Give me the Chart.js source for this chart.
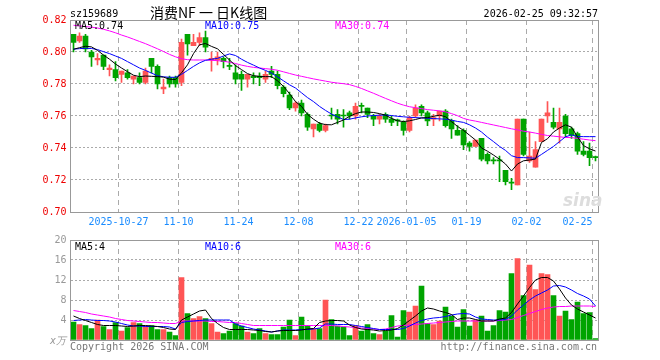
<!DOCTYPE html>
<html>
<head>
<meta charset="utf-8">
<script src="https://cdn.jsdelivr.net/npm/chart.js@4.4.1/dist/chart.umd.min.js"></script>
<style>
  body { margin: 0; background: #fff; }
  #wrap { position: relative; width: 660px; height: 360px; overflow: hidden;
          font-family: 'DejaVu Sans Mono', monospace; font-size: 10px; line-height: 10px; }
  #wrap canvas { position: absolute; left: 0; }
  .txt { position: absolute; white-space: pre; }
</style>
</head>
<body>
<div id="wrap">
  <canvas id="kline" width="660" height="232" style="top:0"></canvas>
  <canvas id="vol" width="660" height="128" style="top:232px"></canvas>

  <div class="txt" style="left:70px;top:9px;color:#000">sz159689</div>
  <div class="txt" style="left:150px;top:5px;font-family:'Noto Sans CJK SC';font-size:14px;line-height:14px;color:#000">消费NF 一 日K线图</div>
  <div class="txt" style="right:62px;top:9px;color:#000">2026-02-25 09:32:57</div>

  <div class="txt" id="lgMa5" style="left:75px;top:21px;color:#000"></div>
  <div class="txt" id="lgMa10" style="left:205px;top:21px;color:#0000ff"></div>
  <div class="txt" id="lgMa30" style="left:335px;top:21px;color:#ff00ff"></div>

  <div class="txt" id="lgVol5" style="left:75px;top:242px;color:#000"></div>
  <div class="txt" id="lgVol10" style="left:205px;top:242px;color:#0000ff"></div>
  <div class="txt" id="lgVol30" style="left:335px;top:242px;color:#ff00ff"></div>

  <div class="txt" style="left:50px;top:336px;color:#999;font-style:italic">x万</div>
  <div class="txt" style="left:70px;top:342px;color:#777">Copyright 2026 SINA.COM</div>
  <div class="txt" style="right:63px;top:342px;color:#777">http://finance.sina.com.cn</div>
  <div class="txt" style="left:563px;top:192px;font-family:'DejaVu Sans';font-size:17px;line-height:17px;font-weight:bold;font-style:italic;color:#ddd">sina</div>
</div>

<script>
// 交易日 2025-10-15 .. 2026-02-25
const dates = [
  '2025-10-15','2025-10-16','2025-10-17','2025-10-20','2025-10-21','2025-10-22','2025-10-23','2025-10-24','2025-10-27','2025-10-28',
  '2025-10-29','2025-10-30','2025-10-31','2025-11-03','2025-11-04','2025-11-05','2025-11-06','2025-11-07','2025-11-10','2025-11-11',
  '2025-11-12','2025-11-13','2025-11-14','2025-11-17','2025-11-18','2025-11-19','2025-11-20','2025-11-21','2025-11-24','2025-11-25',
  '2025-11-26','2025-11-27','2025-11-28','2025-12-01','2025-12-02','2025-12-03','2025-12-04','2025-12-05','2025-12-08','2025-12-09',
  '2025-12-10','2025-12-11','2025-12-12','2025-12-15','2025-12-16','2025-12-17','2025-12-18','2025-12-19','2025-12-22','2025-12-23',
  '2025-12-24','2025-12-25','2025-12-26','2025-12-29','2025-12-30','2025-12-31','2026-01-05','2026-01-06','2026-01-07','2026-01-08',
  '2026-01-09','2026-01-12','2026-01-13','2026-01-14','2026-01-15','2026-01-16','2026-01-19','2026-01-20','2026-01-21','2026-01-22',
  '2026-01-23','2026-01-26','2026-01-27','2026-01-28','2026-01-29','2026-01-30','2026-02-02','2026-02-03','2026-02-04','2026-02-05',
  '2026-02-06','2026-02-09','2026-02-10','2026-02-11','2026-02-12','2026-02-13','2026-02-24','2026-02-25'
];

const opens = [
  0.811,0.807,0.810,0.800,0.795,0.798,0.789,0.789,0.786,0.787,
  0.783,0.784,0.781,0.796,0.791,0.777,0.784,0.784,0.781,0.811,
  0.804,0.806,0.809,0.795,0.795,0.796,0.791,0.787,0.786,0.783,
  0.785,0.785,0.783,0.788,0.786,0.778,0.773,0.765,0.768,0.761,
  0.752,0.755,0.751,0.760,0.761,0.760,0.762,0.760,0.766,0.765,
  0.760,0.758,0.761,0.758,0.757,0.756,0.751,0.760,0.766,0.762,
  0.758,0.760,0.763,0.757,0.751,0.751,0.743,0.741,0.746,0.736,
  0.732,0.732,0.726,0.718,0.717,0.758,0.732,0.728,0.744,0.760,
  0.756,0.752,0.760,0.752,0.749,0.738,0.738,0.734
];
const highs = [
  0.811,0.812,0.811,0.801,0.799,0.798,0.792,0.794,0.788,0.789,
  0.785,0.787,0.790,0.796,0.792,0.783,0.785,0.785,0.808,0.811,
  0.811,0.812,0.813,0.800,0.800,0.797,0.796,0.792,0.788,0.786,
  0.787,0.787,0.788,0.791,0.788,0.779,0.775,0.769,0.770,0.762,
  0.755,0.756,0.755,0.765,0.764,0.764,0.763,0.768,0.768,0.765,
  0.761,0.761,0.762,0.760,0.758,0.757,0.760,0.767,0.767,0.763,
  0.761,0.763,0.764,0.758,0.754,0.752,0.744,0.745,0.746,0.737,
  0.734,0.735,0.726,0.721,0.758,0.758,0.750,0.744,0.758,0.769,
  0.765,0.765,0.761,0.753,0.750,0.744,0.743,0.735
];
const lows = [
  0.800,0.806,0.800,0.791,0.792,0.789,0.785,0.782,0.781,0.783,
  0.780,0.780,0.780,0.787,0.777,0.774,0.778,0.778,0.779,0.798,
  0.804,0.804,0.800,0.788,0.792,0.790,0.789,0.780,0.776,0.778,
  0.780,0.779,0.781,0.784,0.777,0.772,0.764,0.763,0.760,0.751,
  0.747,0.750,0.750,0.758,0.755,0.753,0.758,0.758,0.762,0.759,
  0.754,0.755,0.756,0.754,0.754,0.748,0.750,0.759,0.760,0.754,
  0.754,0.757,0.753,0.746,0.748,0.739,0.738,0.741,0.732,0.730,
  0.730,0.719,0.717,0.714,0.717,0.735,0.731,0.728,0.744,0.756,
  0.752,0.743,0.747,0.746,0.736,0.735,0.729,0.732
];
const closes = [
  0.806,0.810,0.802,0.797,0.796,0.791,0.790,0.784,0.788,0.784,
  0.785,0.781,0.788,0.791,0.780,0.778,0.780,0.780,0.806,0.805,
  0.806,0.809,0.803,0.796,0.797,0.794,0.791,0.783,0.783,0.786,
  0.784,0.784,0.786,0.786,0.779,0.774,0.765,0.768,0.762,0.753,
  0.755,0.751,0.754,0.760,0.758,0.760,0.760,0.766,0.766,0.761,
  0.758,0.760,0.758,0.756,0.757,0.751,0.759,0.765,0.762,0.757,
  0.759,0.763,0.754,0.752,0.748,0.742,0.741,0.745,0.733,0.732,
  0.732,0.732,0.719,0.718,0.758,0.736,0.735,0.739,0.758,0.762,
  0.753,0.756,0.749,0.748,0.738,0.736,0.734,0.734
];

// 均线
const ma5 = [
  0.8017,0.8027,0.8036,0.8032,0.8010,0.7981,0.7955,0.7925,0.7900,0.7877,
  0.7855,0.7846,0.7850,0.7848,0.7846,0.7843,0.7830,0.7828,0.7870,0.7920,
  0.7990,0.8045,0.8053,0.8035,0.8020,0.7985,0.7950,0.7915,0.7890,0.7865,
  0.7852,0.7847,0.7846,0.7846,0.7820,0.7785,0.7740,0.7690,0.7660,0.7610,
  0.7580,0.7555,0.7546,0.7545,0.7560,0.7575,0.7598,0.7615,0.7625,0.7625,
  0.7622,0.7615,0.7605,0.7585,0.7570,0.7565,0.7570,0.7578,0.7588,0.7590,
  0.7598,0.7605,0.7596,0.7565,0.7535,0.7510,0.7480,0.7450,0.7400,0.7380,
  0.7356,0.7330,0.7300,0.7256,0.7300,0.7320,0.7325,0.7331,0.7435,0.7458,
  0.7500,0.7525,0.7545,0.7530,0.7470,0.7415,0.7395,0.7381
];
const ma10 = [
  0.8018,0.8021,0.8023,0.8022,0.8015,0.8002,0.7990,0.7975,0.7960,0.7940,
  0.7920,0.7900,0.7885,0.7868,0.7852,0.7845,0.7842,0.7842,0.7860,0.7885,
  0.7910,0.7932,0.7948,0.7955,0.7960,0.7975,0.7988,0.7978,0.7955,0.7935,
  0.7918,0.7900,0.7885,0.7868,0.7845,0.7820,0.7795,0.7775,0.7745,0.7715,
  0.7690,0.7660,0.7635,0.7612,0.7595,0.7578,0.7580,0.7588,0.7595,0.7600,
  0.7603,0.7605,0.7606,0.7603,0.7598,0.7595,0.7592,0.7590,0.7588,0.7586,
  0.7584,0.7582,0.7580,0.7574,0.7566,0.7560,0.7545,0.7525,0.7500,0.7468,
  0.7440,0.7410,0.7385,0.7352,0.7340,0.7340,0.7338,0.7336,0.7360,0.7385,
  0.7410,0.7440,0.7470,0.7482,0.7472,0.7471,0.7471,0.7471
];
const ma30 = [
  0.8167,0.8163,0.8159,0.8155,0.8150,0.8142,0.8132,0.8120,0.8106,0.8094,
  0.8080,0.8066,0.8052,0.8036,0.8020,0.8003,0.7985,0.7970,0.7958,0.7952,
  0.7950,0.7950,0.7950,0.7948,0.7946,0.7942,0.7936,0.7928,0.7918,0.7910,
  0.7904,0.7900,0.7896,0.7892,0.7886,0.7876,0.7866,0.7856,0.7848,0.7840,
  0.7832,0.7825,0.7818,0.7811,0.7806,0.7802,0.7796,0.7785,0.7772,0.7757,
  0.7742,0.7726,0.7710,0.7695,0.7680,0.7668,0.7658,0.7652,0.7646,0.7640,
  0.7636,0.7632,0.7626,0.7615,0.7602,0.7585,0.7575,0.7568,0.7560,0.7552,
  0.7544,0.7536,0.7528,0.7520,0.7513,0.7505,0.7500,0.7493,0.7485,0.7478,
  0.7474,0.7470,0.7466,0.7465,0.7460,0.7455,0.7450,0.7446
];

// 成交量 (万)
const volumes = [
  3.6,3.1,2.9,2.3,4.0,2.7,2.1,3.5,1.8,2.5,
  3.5,3.3,2.8,2.9,2.1,2.1,1.6,0.9,12.5,5.3,
  4.3,4.7,4.3,3.3,1.6,1.3,1.8,3.3,2.8,1.6,
  1.3,2.3,1.3,1.1,1.1,2.6,4.0,0.9,4.6,2.9,
  2.3,2.3,8.0,4.1,2.8,2.6,0.9,2.9,1.8,3.1,
  1.3,1.1,1.8,4.9,0.6,5.9,5.6,6.8,10.8,3.3,
  3.1,3.8,6.6,4.8,2.6,6.1,2.8,4.0,4.8,1.8,
  2.9,5.9,5.6,13.3,16.3,8.9,15.0,10.1,13.3,13.1,
  8.9,4.8,5.8,4.1,7.6,5.3,5.5,0.3
];
const volMa5 = [
  4.8,4.3,3.9,3.5,3.1,2.9,2.9,2.9,2.8,2.7,
  2.8,2.9,2.9,2.8,2.7,2.5,2.2,2.1,4.0,4.6,
  5.2,5.8,6.0,4.3,3.3,2.5,2.1,2.1,2.1,2.1,
  2.0,1.9,1.7,1.6,1.8,1.9,1.9,1.9,2.0,2.2,
  2.3,3.5,3.8,3.9,3.9,3.8,3.0,2.5,2.2,2.1,
  2.0,1.8,1.9,2.0,2.3,3.0,3.9,4.8,5.8,6.4,
  6.2,5.8,5.5,5.1,4.1,4.4,4.4,4.1,3.8,3.8,
  3.8,4.2,4.4,5.5,7.2,8.8,10.5,12.0,12.5,12.5,
  11.8,10.2,8.4,7.0,6.2,5.6,5.0,4.4
];
const volMa10 = [
  3.9,4.0,4.1,4.0,3.9,3.9,3.8,3.6,3.3,3.0,
  2.8,2.8,2.7,2.7,2.7,2.7,2.6,2.2,3.5,3.7,
  3.8,3.9,4.0,4.0,4.0,4.0,4.0,3.2,2.8,2.5,
  2.2,2.0,1.8,1.6,1.8,2.0,2.0,2.0,2.1,2.1,
  2.2,2.4,3.2,3.2,3.1,3.1,3.1,2.9,2.7,2.5,
  2.3,2.1,2.1,2.1,2.1,2.3,2.8,3.4,3.9,4.2,
  4.4,4.5,4.7,5.0,5.2,5.3,5.2,4.6,4.2,4.1,
  4.0,4.0,4.1,4.8,6.0,7.0,8.0,8.8,9.4,10.0,
  10.8,10.9,10.6,10.0,9.3,8.8,8.2,6.8
];
const volMa30 = [
  5.9,5.7,5.5,5.2,5.0,4.8,4.6,4.3,4.1,3.9,
  3.8,3.7,3.6,3.5,3.5,3.4,3.3,3.3,3.8,3.8,
  3.8,3.8,3.8,3.7,3.7,3.6,3.5,3.5,3.3,3.1,
  2.9,2.9,2.9,2.9,2.9,2.9,2.9,2.9,2.9,2.9,
  2.9,2.9,2.9,2.9,2.8,2.7,2.6,2.5,2.4,2.3,
  2.2,2.1,2.2,2.5,2.8,2.9,3.0,3.1,3.2,3.3,
  3.4,3.5,3.6,3.7,3.8,3.8,3.8,3.8,3.8,3.8,
  3.8,3.9,4.0,4.1,4.5,4.9,5.3,5.7,6.1,6.4,
  6.6,6.7,6.7,6.8,6.8,6.8,6.8,6.7
];

// 横轴刻度
const tickDates = ['2025-10-27','2025-11-10','2025-11-24','2025-12-08','2025-12-22','2026-01-05','2026-01-19','2026-02-02','2026-02-25'];
const tickText  = ['2025-10-27','11-10','11-24','12-08','12-22','2026-01-05','01-19','02-02','02-25'];
const priceTicks = [0.70, 0.72, 0.74, 0.76, 0.78, 0.80, 0.82];
const volTicks = [0, 4, 8, 12, 16, 20];

const UP = '#ff5555';
const DOWN = '#00a400';
const colors = closes.map((c, i) => c > opens[i] ? UP : DOWN);
const FONT = { family: 'DejaVu Sans Mono', size: 10 };

// 图例文字
document.getElementById('lgMa5').textContent = 'MA5:' + ma5[ma5.length - 1].toFixed(2);
document.getElementById('lgMa10').textContent = 'MA10:' + ma10[ma10.length - 1].toFixed(2);
document.getElementById('lgMa30').textContent = 'MA30:' + ma30[ma30.length - 1].toFixed(2);
document.getElementById('lgVol5').textContent = 'MA5:' + Math.floor(volMa5[volMa5.length - 1]);
document.getElementById('lgVol10').textContent = 'MA10:' + Math.floor(volMa10[volMa10.length - 1]);
document.getElementById('lgVol30').textContent = 'MA30:' + Math.floor(volMa30[volMa30.length - 1]);

// 外框
const framePlugin = {
  id: 'frame',
  afterDraw(chart) {
    const { ctx, chartArea: a } = chart;
    ctx.save();
    ctx.strokeStyle = '#999';
    ctx.lineWidth = 1;
    ctx.strokeRect(Math.floor(a.left) + 0.5, Math.floor(a.top) + 0.5,
      Math.round(a.right - a.left), Math.round(a.bottom - a.top));
    ctx.restore();
  }
};

function noPad(s) {
  s.paddingLeft = 0; s.paddingRight = 0; s.paddingTop = 0; s.paddingBottom = 0;
}

function xAxis(showLabels) {
  return {
    type: 'category',
    offset: true,
    grid: {
      offset: true,
      drawTicks: false,
      lineWidth: 1,
      color: ctx => tickDates.includes(dates[ctx.index]) ? '#aaa' : 'rgba(0,0,0,0)'
    },
    border: { display: false, dash: [5, 4] },
    ticks: {
      display: showLabels,
      autoSkip: false,
      maxRotation: 0,
      minRotation: 0,
      padding: 4,
      labelOffset: -3,
      color: '#1a8cff',
      font: FONT,
      callback: (v, i) => {
        const k = tickDates.indexOf(dates[i]);
        if (k < 0) return '';
        // 最后一个日期右对齐到竖线
        return k === tickDates.length - 1 ? tickText[k] + '     ' : tickText[k];
      }
    },
    afterFit: s => { s.height = 20; noPad(s); }
  };
}

function lineSet(data, color) {
  return { type: 'line', data, borderColor: color, borderWidth: 1, pointRadius: 0,
           fill: false, tension: 0, order: 0 };
}

new Chart(document.getElementById('kline'), {
  type: 'bar',
  data: {
    labels: dates,
    datasets: [
      { data: lows.map((l, i) => [l, highs[i]]), backgroundColor: colors,
        barThickness: 1, grouped: false, order: 2 },
      { data: opens.map((o, i) => [o, closes[i]]), backgroundColor: colors,
        barThickness: 5, minBarLength: 1, grouped: false, order: 1 },
      lineSet(ma5, '#000000'),
      lineSet(ma10, '#0000ff'),
      lineSet(ma30, '#ff00ff')
    ]
  },
  options: {
    responsive: false,
    devicePixelRatio: 1,
    animation: false,
    layout: { padding: { top: 20, left: 0.5, right: 61.5, bottom: 0 } },
    plugins: { legend: { display: false }, tooltip: { enabled: false } },
    scales: {
      x: xAxis(true),
      y: {
        min: 0.70,
        max: 0.82,
        afterBuildTicks: s => { s.ticks = priceTicks.map(v => ({ value: v })); },
        ticks: { color: '#ee0000', font: FONT, padding: 4, callback: v => Number(v).toFixed(2) },
        grid: {
          drawTicks: false,
          color: ctx => (ctx.tick && ctx.tick.value > 0.701 && ctx.tick.value < 0.819) ? '#aaa' : 'rgba(0,0,0,0)'
        },
        border: { display: false, dash: [2, 2] },
        afterFit: s => { s.width = 70; noPad(s); }
      }
    }
  },
  plugins: [framePlugin]
});

new Chart(document.getElementById('vol'), {
  type: 'bar',
  data: {
    labels: dates,
    datasets: [
      { data: volumes, backgroundColor: colors, barThickness: 5, order: 1 },
      lineSet(volMa5, '#000000'),
      lineSet(volMa10, '#0000ff'),
      lineSet(volMa30, '#ff00ff')
    ]
  },
  options: {
    responsive: false,
    devicePixelRatio: 1,
    animation: false,
    layout: { padding: { top: 8, left: 0.5, right: 61.5, bottom: 0 } },
    plugins: { legend: { display: false }, tooltip: { enabled: false } },
    scales: {
      x: xAxis(false),
      y: {
        min: 0,
        max: 20,
        afterBuildTicks: s => { s.ticks = volTicks.map(v => ({ value: v })); },
        ticks: { color: '#999', font: FONT, padding: 4, callback: v => v === 0 ? '' : String(v) },
        grid: {
          drawTicks: false,
          color: ctx => (ctx.tick && ctx.tick.value > 0 && ctx.tick.value < 20) ? '#aaa' : 'rgba(0,0,0,0)'
        },
        border: { display: false, dash: [2, 2] },
        afterFit: s => { s.width = 70; noPad(s); }
      }
    }
  },
  plugins: [framePlugin]
});
</script>
</body>
</html>
